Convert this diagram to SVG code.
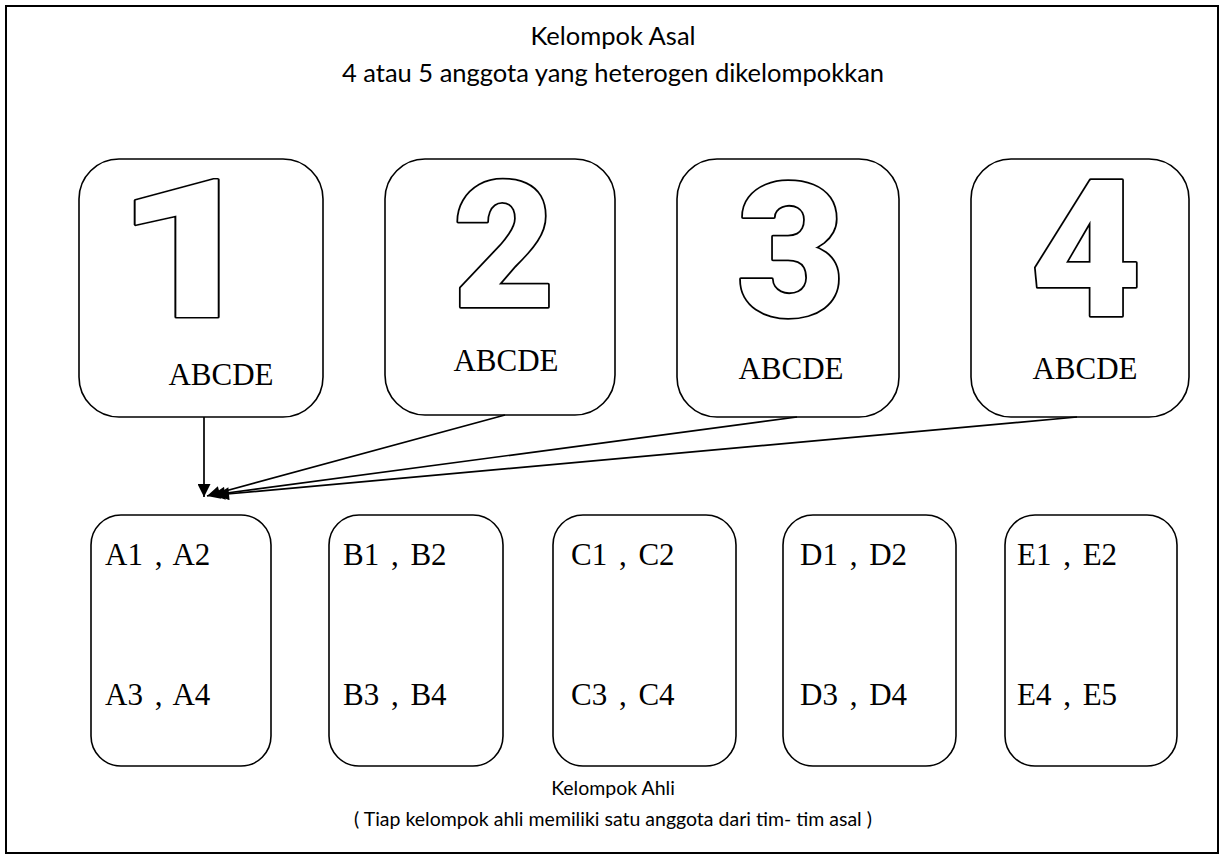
<svg xmlns="http://www.w3.org/2000/svg" width="1224" height="863" viewBox="0 0 1224 863">
<style>
.frame{fill:#fff;stroke:#000;stroke-width:2}
.box{fill:#fff;stroke:#000;stroke-width:1.6}
.title{font-family:Lato,"Open Sans",sans-serif;font-size:25.5px;fill:#000;text-anchor:middle}
.sub{font-family:Lato,"Open Sans",sans-serif;font-size:19.5px;fill:#000;text-anchor:middle}
.num{font-family:Roboto,"Liberation Sans",Arial,sans-serif;font-weight:900;fill:#fff;stroke:#000;stroke-width:3.6;stroke-linejoin:round;paint-order:stroke fill;text-anchor:middle}
.lbl{font-family:"Liberation Serif","Times New Roman",serif;font-size:31px;fill:#000;text-anchor:middle}
.mem{font-family:"Liberation Serif","Times New Roman",serif;font-size:31px;word-spacing:4px;fill:#000}
.conn{stroke:#000;stroke-width:1.7;fill:none;marker-end:url(#ah)}
</style>
<defs>
<marker id="ah" viewBox="0 0 10 10" refX="10" refY="5" markerWidth="15" markerHeight="13" markerUnits="userSpaceOnUse" orient="auto">
<path d="M0,0 L10,5 L0,10 Z" fill="#000"/>
</marker>
</defs>
<rect x="0" y="0" width="1224" height="863" fill="#fff"/>
<rect class="frame" x="6" y="6" width="1212" height="847"/>
<text class="title" x="613" y="45">Kelompok Asal</text>
<text class="title" x="613" y="82">4 atau 5 anggota yang heterogen dikelompokkan</text>

<g id="asal1">
<rect class="box" x="79" y="159" width="244" height="258" rx="40"/>
<text class="num" transform="translate(188,0) scale(1.3,1)" x="0" y="317" font-size="193" vector-effect="non-scaling-stroke">1</text>
<text class="lbl" x="221" y="385">ABCDE</text>
</g>
<g id="asal2">
<rect class="box" x="385" y="159" width="230" height="256" rx="40"/>
<text class="num" x="504" y="307" font-size="176">2</text>
<text class="lbl" x="506" y="371">ABCDE</text>
</g>
<g id="asal3">
<rect class="box" x="677" y="159" width="222" height="258" rx="40"/>
<text class="num" x="791" y="316" font-size="188">3</text>
<text class="lbl" x="791" y="379">ABCDE</text>
</g>
<g id="asal4">
<rect class="box" x="971" y="159" width="218" height="258" rx="40"/>
<text class="num" x="1086" y="316" font-size="192">4</text>
<text class="lbl" x="1085" y="379">ABCDE</text>
</g>

<g id="connectors">
<line class="conn" x1="204" y1="417" x2="204" y2="497"/>
<line class="conn" x1="505" y1="415" x2="207" y2="496"/>
<line class="conn" x1="797" y1="417" x2="212" y2="495"/>
<line class="conn" x1="1077" y1="417" x2="216" y2="495"/>
</g>

<g id="ahliA">
<rect class="box" x="91" y="515" width="180" height="251" rx="30"/>
<text class="mem" x="105" y="565">A1 , A2</text>
<text class="mem" x="105" y="705">A3 , A4</text>
</g>
<g id="ahliB">
<rect class="box" x="329" y="515" width="174" height="251" rx="30"/>
<text class="mem" x="343" y="565">B1 , B2</text>
<text class="mem" x="343" y="705">B3 , B4</text>
</g>
<g id="ahliC">
<rect class="box" x="553" y="515" width="183" height="251" rx="30"/>
<text class="mem" x="571" y="565">C1 , C2</text>
<text class="mem" x="571" y="705">C3 , C4</text>
</g>
<g id="ahliD">
<rect class="box" x="783" y="515" width="173" height="251" rx="30"/>
<text class="mem" x="800" y="565">D1 , D2</text>
<text class="mem" x="800" y="705">D3 , D4</text>
</g>
<g id="ahliE">
<rect class="box" x="1005" y="515" width="172" height="251" rx="30"/>
<text class="mem" x="1017" y="565">E1 , E2</text>
<text class="mem" x="1017" y="705">E4 , E5</text>
</g>

<text class="sub" x="613" y="795">Kelompok Ahli</text>
<text class="sub" x="613" y="826">( Tiap kelompok ahli memiliki satu anggota dari tim- tim asal )</text>
</svg>
